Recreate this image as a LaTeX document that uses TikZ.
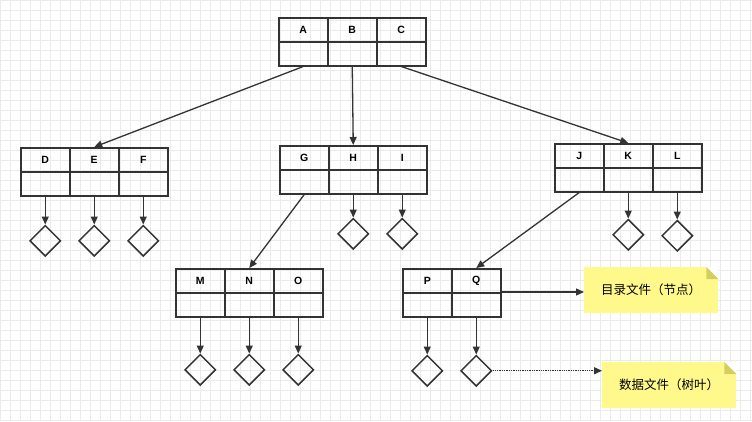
\documentclass[tikz,border=0pt]{standalone}
\usepackage{fontspec}
\setmainfont{Liberation Sans}
\newfontfamily\cjk{Noto Sans CJK SC}
\usetikzlibrary{arrows.meta,shapes.geometric}
\begin{document}
\begin{tikzpicture}[x=1pt,y=-1pt,
  cell/.style={draw=black!80,line width=1.5pt,minimum width=49pt,minimum height=24pt,inner sep=0pt,anchor=north west,font=\bfseries\fontsize{10.5}{12}\selectfont},
  dia/.style={draw=black!80,line width=1.5pt,diamond,minimum width=31pt,minimum height=31pt,inner sep=0pt,aspect=1,anchor=north},
  ar/.style={draw=black!80,line width=1.3pt,-{Triangle[length=8pt,width=7pt]}},
  note/.style={fill=yellow!45,minimum width=134pt,minimum height=46pt,inner sep=0pt,anchor=north west,font=\cjk\fontsize{12.5}{14}\selectfont}]
\useasboundingbox (0,0) rectangle (752,421);
\fill[white] (0,0) rectangle (752,421);
\foreach \i in {0,10,...,750} \draw[black!8,line width=0.4pt] (\i,0) -- (\i,421);
\foreach \i in {0,10,...,420} \draw[black!8,line width=0.4pt] (0,\i) -- (752,\i);
\newcommand\rec[3]{%
  \foreach \l [count=\k from 0] in {#3} {
    \node[cell] (\l) at ({#1+49*\k},#2) {\l};
    \node[cell] (\l2) at ({#1+49*\k},#2+24) {};
  }}
\rec{278}{17}{A,B,C}
\rec{20}{147}{D,E,F}
\rec{279}{145}{G,H,I}
\rec{554}{143}{J,K,L}
\rec{175}{268}{M,N,O}
\rec{402}{268}{P,Q}
\foreach \n/\g in {D/28,E/28,F/28,H/23,I/23,K/26,L/27,M/36,N/36,O/36,P/37,Q/37}{
  \node[dia] (d\n) at ([yshift=-\g pt]\n2.south) {};
  \draw[ar] (\n2.south) -- (d\n.north);
}
\draw[ar] (A2.south) -- (E.north);
\draw[ar] (B2.south) -- (H.north);
\draw[ar] (C2.south) -- (K.north);
\draw[ar] (G2.south) -- (N.north);
\draw[ar] (J2.south) -- (Q.north);
\node[note] (n1) at (584,267) {目录文件（节点）};
\node[note] (n2) at (602,362) {数据文件（树叶）};
\foreach \n in {n1,n2}{
  \fill[white] ([xshift=-12pt]\n.north east) -- (\n.north east) -- ([yshift=-12pt]\n.north east) -- cycle;
  \fill[yellow!30!olive!55] ([xshift=-12pt]\n.north east) -- ([xshift=-12pt,yshift=-12pt]\n.north east) -- ([yshift=-12pt]\n.north east) -- cycle;
}
\coordinate (q1) at (Q2.north east);
\draw[ar] (q1) -- (n1.west |- q1);
\draw[ar,densely dotted] (dQ.east) -- (n2.west |- dQ.east);
\end{tikzpicture}
\end{document}
